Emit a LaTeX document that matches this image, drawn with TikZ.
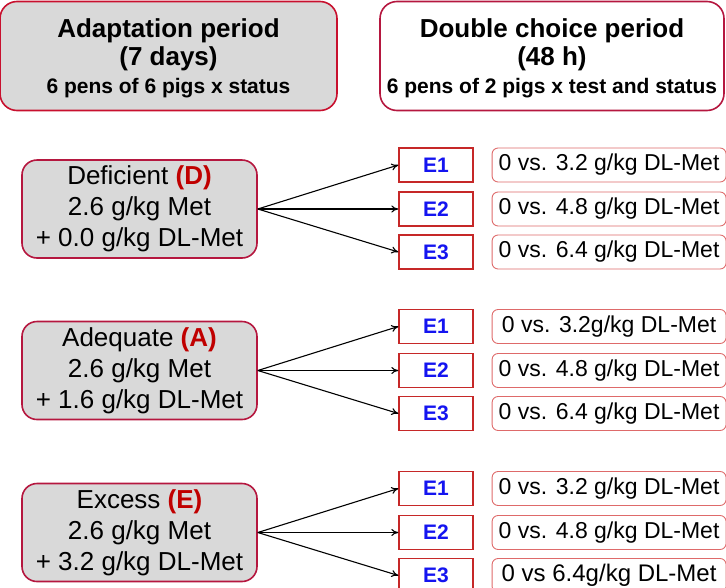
\documentclass[tikz,border=0pt]{standalone}
\usepackage{fontspec}
\setmainfont{Liberation Sans}
\usetikzlibrary{positioning,arrows.meta}

\definecolor{boxgray}{HTML}{D9D9D9}
\definecolor{headred}{HTML}{C8102E}
\definecolor{framered}{HTML}{B5173F}
\definecolor{testred}{HTML}{C62828}
\definecolor{pairred}{HTML}{DE6A6A}
\definecolor{labelred}{HTML}{C00000}
\definecolor{testblue}{HTML}{1414F0}

\tikzset{
  headbox/.style={rounded corners=17pt, line width=1.6pt, minimum width=337pt,
    minimum height=109pt, inner sep=0pt},
  headtext/.style={align=center, inner sep=0pt, font=\bfseries\fontsize{26}{28}\selectfont},
  statusbox/.style={draw=framered, fill=boxgray, rounded corners=15pt, line width=1.6pt,
    minimum width=235pt, minimum height=98pt, align=center, inner sep=0pt,
    font=\fontsize{26}{31}\selectfont},
  testbox/.style={draw=testred, fill=white, line width=1.3pt, minimum width=74pt,
    minimum height=34pt, inner sep=0pt,
    font=\bfseries\fontsize{21}{24}\selectfont\color{testblue}},
  pairbox/.style={draw=pairred, rounded corners=6pt, line width=0.9pt, minimum width=234pt,
    minimum height=34pt, inner sep=0pt, right=18pt of #1,
    font=\fontsize{23}{27}\selectfont},
  feed/.style={-{To[length=7pt,width=7pt]}, line width=1.1pt}
}

\begin{document}
\begin{tikzpicture}[x=1pt,y=1pt]
    % fix canvas
    \useasboundingbox (0,0) rectangle (726,-587);

    % draw header boxes
    \node[headbox, draw=headred, fill=boxgray] (adapt) at (168.5,-56) {};
    \node[headbox, draw=framered, fill=white, minimum width=344pt] (choice) at (552,-56) {};
    \node[headtext] (adapttext) at ([yshift=-2pt]adapt)
      {Adaptation period\\(7 days)\\{\fontsize{21}{26}\selectfont 6 pens of 6 pigs x status}};
    \node[headtext] (choicetext) at ([yshift=-2pt]choice)
      {Double choice period\\(48 h)\\{\fontsize{21}{26}\selectfont 6 pens of 2 pigs x test and status}};

    % draw status boxes
    \node[statusbox] (D) at (139.5,-209)
      {Deficient \textcolor{labelred}{\textbf{(D)}}\\2.6 g/kg Met\\+ 0.0 g/kg DL-Met};
    \node[statusbox] (A) at (139.5,-370.5)
      {Adequate \textcolor{labelred}{\textbf{(A)}}\\2.6 g/kg Met\\+ 1.6 g/kg DL-Met};
    \node[statusbox] (E) at (139.5,-532.5)
      {Excess \textcolor{labelred}{\textbf{(E)}}\\2.6 g/kg Met\\+ 3.2 g/kg DL-Met};

    % draw test boxes and arrows
    \foreach \s/\y in {D/209, A/370.5, E/532.5} {
      \foreach \i/\dy in {1/-44, 2/0, 3/43} {
        \node[testbox] (\s\i) at (436,-\y-\dy) {E\i};
        \draw[feed] (\s.east) -- (\s\i.west);
      }
    }

    % draw contrasts
    \node[pairbox=D1] (pD1) {0 vs. 3.2 g/kg DL-Met};
    \node[pairbox=D2] (pD2) {0 vs. 4.8 g/kg DL-Met};
    \node[pairbox=D3] (pD3) {0 vs. 6.4 g/kg DL-Met};
    \node[pairbox=A1] (pA1) {0 vs. 3.2g/kg DL-Met};
    \node[pairbox=A2] (pA2) {0 vs. 4.8 g/kg DL-Met};
    \node[pairbox=A3] (pA3) {0 vs. 6.4 g/kg DL-Met};
    \node[pairbox=E1] (pE1) {0 vs. 3.2 g/kg DL-Met};
    \node[pairbox=E2] (pE2) {0 vs. 4.8 g/kg DL-Met};
    \node[pairbox=E3] (pE3) {\fontsize{24}{27}\selectfont 0 vs 6.4g/kg DL-Met};
\end{tikzpicture}
\end{document}
